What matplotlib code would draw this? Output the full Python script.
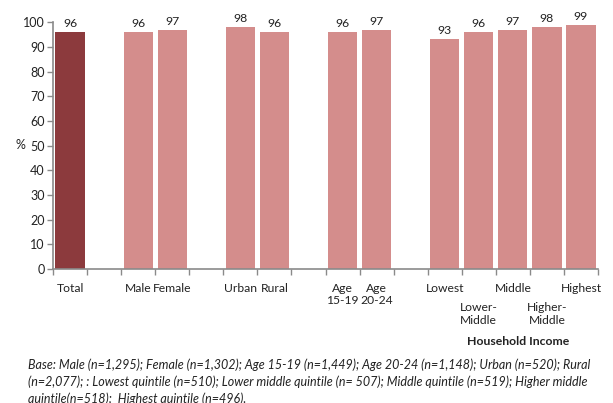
import matplotlib.pyplot as plt

plt.rcParams['font.family'] = ['Lato', 'DejaVu Sans']

# =====================
# Data
# =====================
groups = [
    ["Total"],
    ["Male", "Female"],
    ["Urban", "Rural"],
    ["Age\n15-19", "Age\n20-24"],
    ["Lowest", "Lower-\nMiddle", "Middle", "Higher-\nMiddle", "Highest"],
]
values = [
    [96],
    [96, 97],
    [98, 96],
    [96, 97],
    [93, 96, 97, 98, 99],
]
footnote = ("Base: Male (n=1,295); Female (n=1,302); Age 15-19 (n=1,449); Age 20-24 (n=1,148); Urban (n=520); Rural\n"
            "(n=2,077); : Lowest quintile (n=510); Lower middle quintile (n= 507); Middle quintile (n=519); Higher middle\n"
            "quintile(n=518);  Highest quintile (n=496).")

dark = "#8C3A3D"
light = "#D48D8C"
axis_col = "#8A8A8A"

# =====================
# Plot
# =====================
fig = plt.figure(figsize=(6.13, 4.03), dpi=100)
ax = fig.add_axes([0.0865, 0.3325, 0.889, 0.6125])

pos = 0
for gi, (labels, vals) in enumerate(zip(groups, values)):
    for li, (lab, v) in enumerate(zip(labels, vals)):
        col = dark if gi == 0 else light
        ax.bar(pos, v, width=0.86, color=col, edgecolor="none")
        ax.text(pos, v + 1.2, str(v), ha="center", va="bottom", fontsize=8.8, color="#222222")
        # income labels alternate between two rows
        ylab = -0.055
        if gi == len(groups) - 1 and li % 2 == 1:
            ylab = -0.135
        ax.text(pos, ylab, lab, ha="center", va="top", fontsize=8.7, color="#222222",
                transform=ax.get_xaxis_transform(), linespacing=1.2)
        pos += 1
    pos += 1
pos -= 1

ax.set_xlim(-0.5, pos - 0.5)
ax.set_ylim(0, 100)
ax.set_yticks(range(0, 101, 10))
ax.set_xticks([i - 0.5 for i in range(pos + 1)])
ax.set_xticklabels([])

for s in ["top", "right"]:
    ax.spines[s].set_visible(False)
for s in ["left", "bottom"]:
    ax.spines[s].set_color(axis_col)
    ax.spines[s].set_linewidth(1.2)
ax.tick_params(axis="both", colors=axis_col, length=4, width=1, labelsize=9, labelcolor="#222222")
ax.tick_params(axis="y", pad=2)

fig.text(0.033, 0.64, "%", fontsize=9, color="#222222", ha="center", va="center")
fig.text(0.845, 0.153, "Household Income", fontsize=8.8, fontweight="bold", ha="center", va="center", color="#222222")
fig.text(0.046, 0.11, footnote, fontsize=9.0, style="italic", ha="left", va="top",
         color="#222222", linespacing=1.4)

plt.savefig("out.png", dpi=100)
